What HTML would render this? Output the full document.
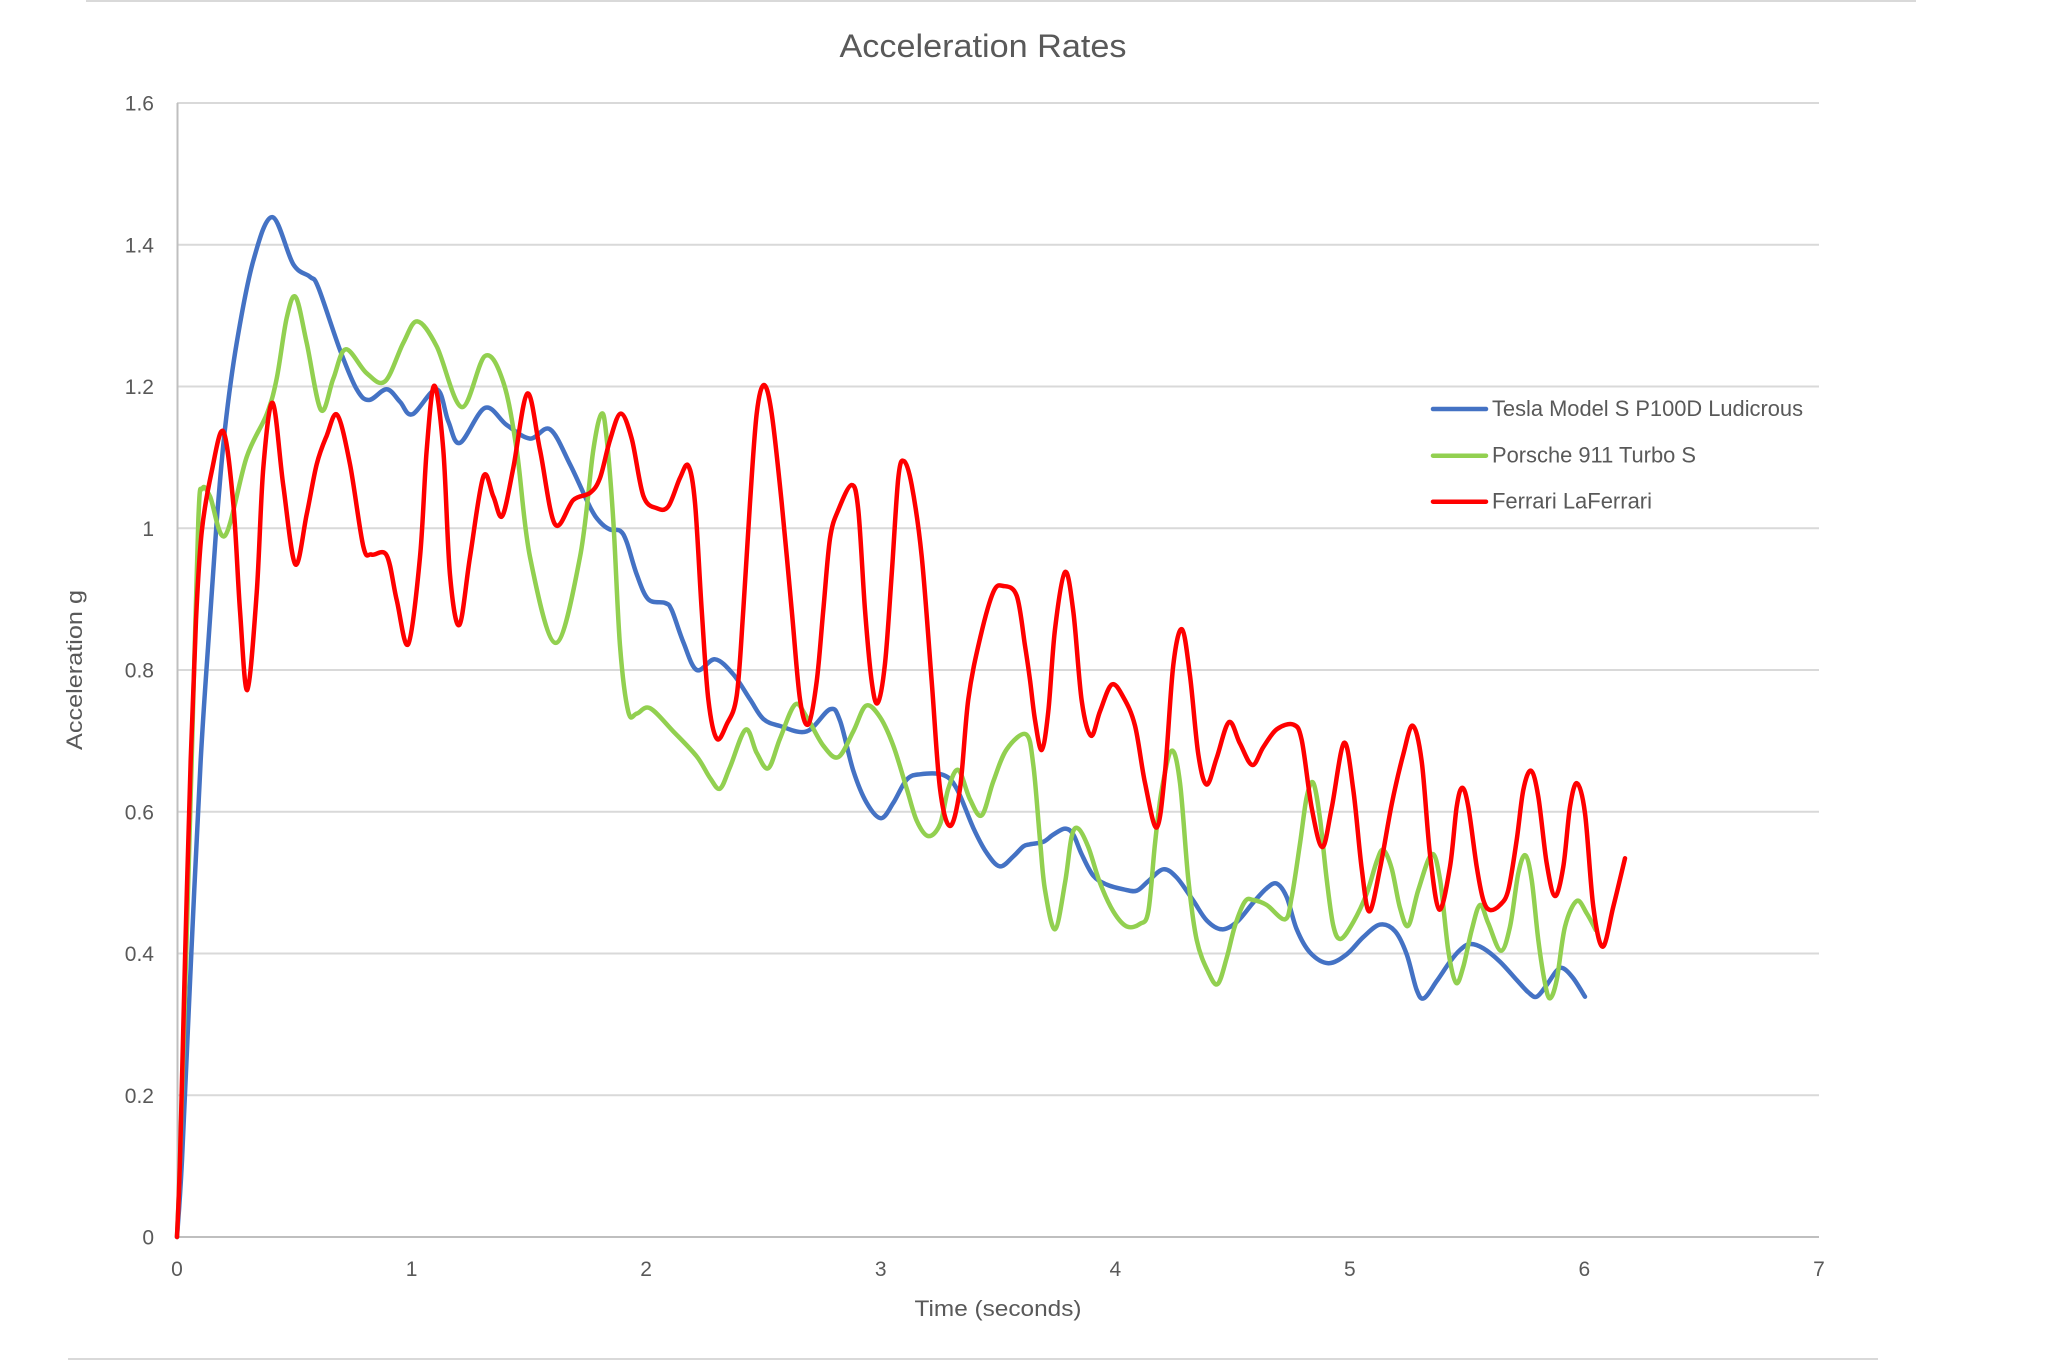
<!DOCTYPE html>
<html>
<head>
<meta charset="utf-8">
<style>
  html, body { margin: 0; padding: 0; background: #ffffff; }
  svg { display: block; }
  text { font-family: "Liberation Sans", "DejaVu Sans", sans-serif; fill: #595959; }
</style>
</head>
<body>
<svg id="chart" width="2048" height="1360" viewBox="0 0 2048 1360" xmlns="http://www.w3.org/2000/svg">
  <rect x="0" y="0" width="2048" height="1360" fill="#ffffff"/>
  <!-- outer border fragments -->
  <line x1="86" y1="1" x2="1916" y2="1" stroke="#d9d9d9" stroke-width="2"/>
  <line x1="68" y1="1359" x2="1878" y2="1359" stroke="#d9d9d9" stroke-width="2"/>

  <!-- gridlines -->
  <g stroke="#d9d9d9" stroke-width="2">
    <line x1="177" y1="1095.25" x2="1819" y2="1095.25"/>
    <line x1="177" y1="953.5" x2="1819" y2="953.5"/>
    <line x1="177" y1="811.75" x2="1819" y2="811.75"/>
    <line x1="177" y1="670" x2="1819" y2="670"/>
    <line x1="177" y1="528.25" x2="1819" y2="528.25"/>
    <line x1="177" y1="386.5" x2="1819" y2="386.5"/>
    <line x1="177" y1="244.75" x2="1819" y2="244.75"/>
    <line x1="177" y1="103" x2="1819" y2="103"/>
  </g>
  <!-- axes -->
  <line x1="177.5" y1="103" x2="177.5" y2="1237" stroke="#bfbfbf" stroke-width="2"/>
  <line x1="177" y1="1237" x2="1819" y2="1237" stroke="#bfbfbf" stroke-width="2"/>

  <!-- y tick labels -->
  <g font-size="21" text-anchor="end">
    <text x="154" y="1244.5">0</text>
    <text x="154" y="1102.75">0.2</text>
    <text x="154" y="961">0.4</text>
    <text x="154" y="819.25">0.6</text>
    <text x="154" y="677.5">0.8</text>
    <text x="154" y="535.75">1</text>
    <text x="154" y="394">1.2</text>
    <text x="154" y="252.25">1.4</text>
    <text x="154" y="110.5">1.6</text>
  </g>
  <!-- x tick labels -->
  <g font-size="21" text-anchor="middle">
    <text x="177" y="1276">0</text>
    <text x="411.6" y="1276">1</text>
    <text x="646.1" y="1276">2</text>
    <text x="880.7" y="1276">3</text>
    <text x="1115.3" y="1276">4</text>
    <text x="1349.9" y="1276">5</text>
    <text x="1584.4" y="1276">6</text>
    <text x="1819" y="1276">7</text>
  </g>

  <!-- titles -->
  <text x="983" y="57" font-size="32" text-anchor="middle" textLength="287" lengthAdjust="spacingAndGlyphs">Acceleration Rates</text>
  <text x="998" y="1316" font-size="22" text-anchor="middle" textLength="167" lengthAdjust="spacingAndGlyphs">Time (seconds)</text>
  <text transform="translate(82,670) rotate(-90)" x="0" y="0" font-size="22" text-anchor="middle" textLength="160" lengthAdjust="spacingAndGlyphs">Acceleration g</text>

  <!-- series (polyline fallback; smoothed by script) -->
  <g fill="none" stroke-width="4.5" stroke-linejoin="round" stroke-linecap="round">
    <polyline class="series" stroke="#4472C4" points="177,1237 182,1160 191,960 200.7,760 209.3,628.6 216.7,521.4 225,428.6 236.7,342.9 253.3,260.7 272.3,217.1 293.3,264.3 310,276.8 318.3,287.5 340,350 356.7,389.3 369,400 386.7,389.3 400,401.8 412.3,414.3 436.7,389.3 448.3,421.4 460,442.9 485,407.9 506.7,425 530,438.6 550,429.3 570,464.3 590,507 600,522 610,529.5 620,530.7 626.7,542 636.7,574.3 648.3,599.3 665,602.9 671.7,610 683.3,642.1 696.7,670 715,659.3 733.3,674.3 750,699.3 763.3,718.9 780,726 806.7,731.4 830,709.3 840,720.7 853.3,770.7 866.7,802.9 881,818.2 893.3,802.9 906.7,779.6 920,774.3 943.3,775 956.7,788.6 973.3,827.9 986.7,852.9 1000,866.4 1013.3,856.4 1023.3,846.4 1030,844.3 1043.3,841.8 1053.3,834.6 1065,828.6 1073.3,834.6 1081.7,854.3 1093.3,875.7 1106.7,884.6 1123.3,889.3 1136.7,890.7 1148.3,881.1 1163.3,869.3 1176.7,877.5 1193.3,900.7 1206.7,920.4 1221.7,929.3 1236.7,922.1 1253.3,902.5 1266.7,888.2 1276.7,883.6 1286.7,897.1 1296.7,929.3 1310,952.5 1328.3,963.2 1346.7,954.3 1363.3,937.1 1380,924.6 1395,931.1 1406.7,954.3 1416.7,990 1424,998.2 1436.7,981.1 1450,961.7 1460,950 1470,944 1483.3,948.3 1500,961.7 1516.7,980 1528.3,992.3 1536.7,996.7 1546.7,985 1556.7,970.7 1563.3,968.3 1573.3,978.3 1585,996.7"/>
    <polyline class="series" stroke="#92D050" points="177,1237 180,1160 186,960 191.7,760 198.3,521 202.3,488.6 210,496.4 225,535.7 246.7,457 266.7,414.3 276.7,378.6 286.7,317.9 295.7,297.1 306.7,342.9 321,410 333.3,378.6 345.7,349.3 366.7,373.2 385,381.4 403.3,342.9 417.3,321.4 436.7,346.4 461.7,407.1 485,356 503.3,382.1 516.7,450 530,557 555.7,642.9 580,557 593.3,450 601.7,413.6 606.7,438.6 613.3,520.7 620,645.7 628.3,711.8 636.7,713.6 650,708.2 673.3,731.4 696.7,756.4 710,777.9 720,788.6 730,767.1 745.7,729.6 756.7,752.9 768.3,768.2 780,738.6 795,704.6 806.7,717.1 823.3,745.7 838.3,757.1 853.3,731.4 866,705.7 880,717.1 893.3,745.7 906.7,788.6 916.7,820.7 928.3,836.1 940,824.3 948.3,788.6 958.3,770 970,799.3 981.7,815.4 993.3,781.4 1006.7,749.3 1026,734.3 1033.3,765 1040,840 1045,890 1055,929.3 1065,882.9 1071.7,836.4 1078.3,828.6 1088.3,847.1 1100,882.9 1113.3,911.4 1126.7,926.4 1140,923.9 1148.3,911.4 1155,843.6 1161.7,790 1171.7,750.7 1180,782.9 1188.3,879.3 1196.7,940 1208.3,972.1 1217.7,984 1226.7,957.9 1235,925.7 1245,901.4 1253.3,900 1266.7,905 1285,919.3 1291.7,897.1 1300,843.6 1306.7,797.1 1313.3,782.9 1320,818.6 1326.7,879.3 1333.3,925.7 1340.7,938.9 1353.3,922.1 1366.7,893.6 1376.7,861.4 1383.3,850 1391.7,868.6 1400,907.9 1408.3,925.7 1418.3,890 1431.7,854.3 1440,879.3 1448.3,950.7 1456,982.7 1463.3,966.7 1471.7,930 1480,905 1488.3,923.3 1500.7,950.7 1510,926.7 1518.3,873.3 1525.3,855.3 1531.7,880 1538.3,940 1545,983.3 1550,998.3 1556.7,980 1565,926.7 1576.7,901 1586.7,913.3 1595.7,930"/>
    <polyline class="series" stroke="#FF0000" points="177,1237 180,1160 185,960 190.7,760 196,620 201.7,532 211.7,471.4 223.3,431.4 233.3,503.6 240,610.7 247.3,690 256.7,592.9 263.3,467.9 272.7,402.9 283.3,485.7 295.3,564.3 306.7,514.3 316.7,464.3 326.7,435.7 337.3,415 350,464.3 363.3,546.4 371.7,554.6 386.7,555.4 396.7,600 408.3,644 420,557 426.7,450 434.3,385.7 443.3,450 450,575 459.3,625 470,557 483.3,476.8 493.3,496.4 502.3,516 513.3,467.9 527.3,393.6 540,450 555,524.3 573.3,500 590,492.9 600,478 610,440 620.7,413.6 631.7,438.6 643.3,495.7 656.7,508.2 668.3,506.4 680,477.9 688.3,465.7 695,502.9 701.7,610 708.3,699.3 716.7,738.6 726.7,724.3 736.7,695.7 743.3,610 750,502.9 756.7,413.6 764,385 771.7,413.6 781.7,502.9 791.7,610 800,699.3 808.3,724.3 816.7,681.4 823.3,610 830,538.6 838.3,510 851.7,485 858.3,510 865,610 871.7,681.4 877.7,702.9 885,663.6 891.7,574.3 898.3,477.9 904,461.1 911.7,485 921.7,556.4 931.7,681.4 940,788.6 950,826 960,788.6 968.3,699.3 980,638.6 993.3,592.1 1003.3,586 1016.7,595.7 1025,645.7 1030,680 1035,720 1041.7,750 1048.3,711.4 1055,629.3 1065,572.1 1073.3,611.4 1081.7,700.7 1091,735.7 1100,711.4 1111.7,684.6 1123.3,697.1 1135,725.7 1145,782.9 1156.7,827.5 1165,772.1 1173.3,665 1182,629.3 1190,675.7 1198.3,754.3 1206.7,784.6 1216.7,757.9 1229,722.1 1240,743.6 1252.3,765 1263.3,747.1 1276.7,729.3 1293.3,724.6 1301.7,740 1311.7,807.9 1322.3,847.1 1331.7,807.9 1344,742.9 1353.3,790 1361.7,868.6 1369.3,911.4 1380,868.6 1391.7,804.3 1403.3,754.3 1412.7,725.7 1421.7,761.4 1430,854.3 1439.3,909.6 1450,866.7 1456.7,806.7 1462.3,787.7 1468.3,806.7 1476.7,866.7 1483.3,900 1490,910 1500,905 1508.3,890 1516.7,840 1523.3,790 1531,770.7 1538.3,796.7 1546.7,863.3 1555,896 1563.3,866.7 1570,806.7 1577,783.3 1585,813.3 1593.3,906.7 1602.7,946.7 1613.3,906.7 1625,858.3"/>
  </g>

  <!-- legend -->
  <g stroke-width="4.5" stroke-linecap="round">
    <line x1="1433" y1="409" x2="1486" y2="409" stroke="#4472C4"/>
    <line x1="1433" y1="455.7" x2="1486" y2="455.7" stroke="#92D050"/>
    <line x1="1433" y1="501.7" x2="1486" y2="501.7" stroke="#FF0000"/>
  </g>
  <g font-size="22">
    <text x="1492" y="416" textLength="311" lengthAdjust="spacingAndGlyphs">Tesla Model S P100D Ludicrous</text>
    <text x="1492" y="462.5" textLength="204" lengthAdjust="spacingAndGlyphs">Porsche 911 Turbo S</text>
    <text x="1492" y="508.5" textLength="160" lengthAdjust="spacingAndGlyphs">Ferrari LaFerrari</text>
  </g>
</svg>
<script>
(function(){
  var NS = "http://www.w3.org/2000/svg";
  var lines = document.querySelectorAll("polyline.series");
  for (var k = 0; k < lines.length; k++) {
    var pl = lines[k];
    var raw = pl.getAttribute("points").trim().split(/\s+/);
    var p = raw.map(function(s){ var a = s.split(","); return [parseFloat(a[0]), parseFloat(a[1])]; });
    var d = "M" + p[0][0] + "," + p[0][1];
    for (var i = 0; i < p.length - 1; i++) {
      var p0 = p[i-1] || p[i], p1 = p[i], p2 = p[i+1], p3 = p[i+2] || p[i+1];
      var c1x = p1[0] + (p2[0]-p0[0])/6, c1y = p1[1] + (p2[1]-p0[1])/6;
      var c2x = p2[0] - (p3[0]-p1[0])/6, c2y = p2[1] - (p3[1]-p1[1])/6;
      d += " C" + c1x.toFixed(2) + "," + c1y.toFixed(2) + " " + c2x.toFixed(2) + "," + c2y.toFixed(2) + " " + p2[0] + "," + p2[1];
    }
    var path = document.createElementNS(NS, "path");
    path.setAttribute("d", d);
    path.setAttribute("stroke", pl.getAttribute("stroke"));
    path.setAttribute("fill", "none");
    pl.parentNode.insertBefore(path, pl);
    pl.parentNode.removeChild(pl);
  }
})();
</script>
</body>
</html>
